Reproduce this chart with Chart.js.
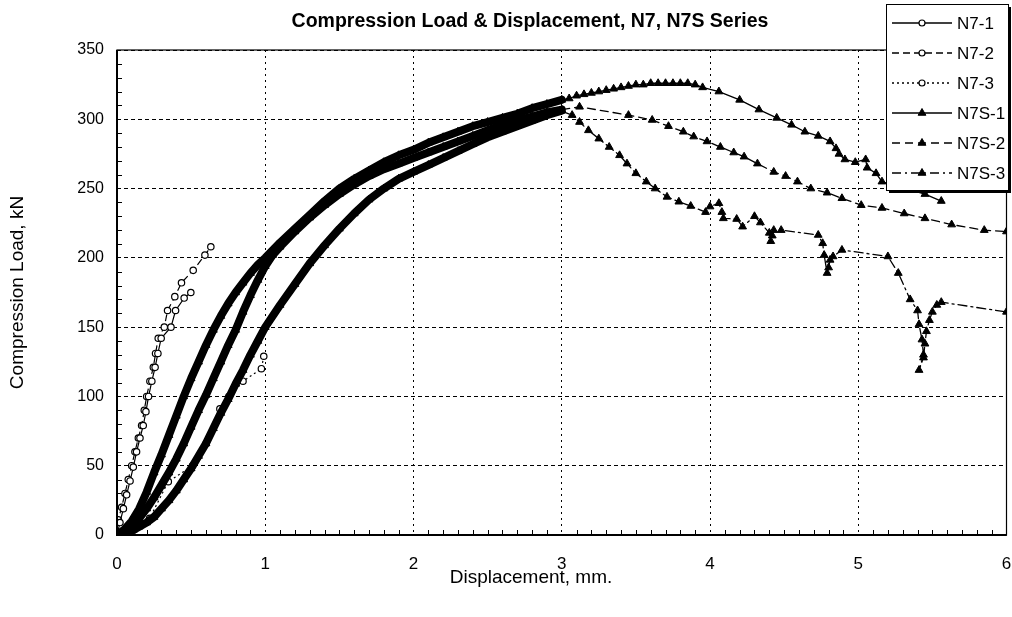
<!DOCTYPE html>
<html><head><meta charset="utf-8">
<script src="https://cdn.jsdelivr.net/npm/chart.js@4.4.0/dist/chart.umd.min.js"></script>
<style>html,body{margin:0;padding:0;background:#fff;overflow:hidden}#wrap{width:1012px;height:617px;position:relative}</style>
</head><body><div id="wrap"><canvas id="c"></canvas></div>
<script>
// ---------- text ----------
const chartTitle = 'Compression Load & Displacement, N7, N7S Series';
const xAxisTitle = 'Displacement, mm.';
const yAxisTitle = 'Compression Load, kN';
const seriesNames = ['N7-1', 'N7-2', 'N7-3', 'N7S-1', 'N7S-2', 'N7S-3'];
const xTickValues = [0, 1, 2, 3, 4, 5, 6];
const yTickValues = [0, 50, 100, 150, 200, 250, 300, 350];

// ---------- data (displacement mm, load kN) ----------
const n7_1_x = [0, 0.02, 0.043, 0.065, 0.088, 0.11, 0.132, 0.155, 0.177, 0.195, 0.213, 0.235, 0.257, 0.276, 0.298, 0.364, 0.395, 0.453, 0.498];
const n7_1_y = [0, 9, 19, 29, 39, 49, 60, 70, 79, 89, 100, 111, 121, 131, 142, 150, 162, 171, 175];

const n7_2_x = [0, 0.009, 0.031, 0.054, 0.076, 0.099, 0.121, 0.144, 0.166, 0.184, 0.2, 0.222, 0.245, 0.26, 0.278, 0.319, 0.341, 0.39, 0.435, 0.514, 0.593, 0.633];
const n7_2_y = [0, 11, 20, 30, 40, 50, 60, 70, 79, 90, 100, 111, 121, 131, 142, 150, 162, 172, 182, 191, 202, 208];

const n7_3_x = [0, 0.12, 0.22, 0.346, 0.51, 0.6, 0.694, 0.754, 0.85, 0.974, 0.99];
const n7_3_y = [0, 4, 12, 38.5, 50, 66, 91, 100, 111, 120, 129];

const n7s_1_x = [0, 0.05, 0.1, 0.15, 0.2, 0.25, 0.3, 0.35, 0.4, 0.45, 0.5, 0.55, 0.6, 0.65, 0.7, 0.75, 0.8, 0.85, 0.9, 0.95,
  1.0, 1.1, 1.2, 1.3, 1.4, 1.5, 1.6, 1.7, 1.8, 1.9, 2.0, 2.1, 2.2, 2.3, 2.4, 2.5, 2.6, 2.7, 2.8, 2.9, 3.0,
  3.05, 3.1, 3.15, 3.2, 3.25, 3.3, 3.35, 3.4, 3.45, 3.5, 3.55, 3.6, 3.65, 3.7, 3.75, 3.8, 3.85, 3.9, 3.95,
  4.06, 4.2, 4.33, 4.45, 4.55, 4.64, 4.73, 4.81, 4.85, 4.87, 4.91, 4.98, 5.05, 5.06, 5.12, 5.16, 5.25, 5.35, 5.45, 5.56];
const n7s_1_y = [0, 4, 10, 19, 31, 45, 58, 72, 86, 100, 113, 125, 137, 148, 158, 167, 175, 182, 189, 195,
  200, 211, 221, 231, 241, 250, 257, 263, 269, 274, 278, 283, 287, 291, 295, 298, 301, 304, 308, 311, 314,
  315, 317, 318, 319, 320, 321, 322, 323, 324, 325, 325, 326, 326, 326, 326, 326, 326, 325, 323,
  320, 314, 307, 301, 296, 291, 288, 284, 279, 275, 271, 269, 271, 265, 261, 255, 252, 249, 246, 241];

const n7s_2_x = [0, 0.05, 0.1, 0.15, 0.2, 0.25, 0.3, 0.35, 0.4, 0.45, 0.5, 0.55, 0.6, 0.65, 0.7, 0.75, 0.8, 0.85, 0.9, 0.95, 1.0, 1.05,
  1.1, 1.2, 1.3, 1.4, 1.5, 1.6, 1.7, 1.8, 1.9, 2.0, 2.1, 2.2, 2.3, 2.4, 2.5, 2.6, 2.7, 2.8, 2.9, 3.0,
  3.12, 3.45, 3.61, 3.72, 3.82, 3.89, 3.98, 4.07, 4.16, 4.23, 4.32, 4.43, 4.51, 4.59, 4.68, 4.79, 4.89, 5.02, 5.16, 5.31, 5.45, 5.63, 5.85, 6.0];
const n7s_2_y = [0, 2, 6, 12, 19, 27, 36, 45, 55, 66, 78, 90, 101, 113, 125, 137, 148, 161, 173, 184, 194, 202,
  208, 219, 229, 238, 246, 253, 259, 264, 268, 272, 276, 280, 284, 288, 292, 296, 299, 302, 305, 307,
  309, 303, 299.5, 295, 291, 287.5, 284, 280, 276, 273, 268, 262, 259, 255, 250, 247, 243, 238, 236, 232, 228.5, 224, 220, 219];

const n7s_3_x = [0, 0.05, 0.1, 0.15, 0.2, 0.25, 0.3, 0.35, 0.4, 0.45, 0.5, 0.55, 0.6, 0.65, 0.7, 0.75, 0.8, 0.85, 0.9, 0.95,
  1.0, 1.1, 1.2, 1.3, 1.4, 1.5, 1.6, 1.7, 1.8, 1.9, 2.0, 2.1, 2.2, 2.3, 2.4, 2.5, 2.6, 2.7, 2.8, 2.9, 2.995,
  3.07, 3.12, 3.18, 3.25, 3.32, 3.39, 3.44, 3.5, 3.57, 3.63, 3.71, 3.79, 3.87, 3.97, 4.0, 4.06, 4.08, 4.09, 4.18, 4.22,
  4.3, 4.34, 4.4, 4.41, 4.42, 4.43, 4.48, 4.73, 4.76, 4.77, 4.79, 4.8, 4.81, 4.83, 4.89, 5.2, 5.27, 5.35, 5.4, 5.41,
  5.43, 5.44, 5.41, 5.44, 5.45, 5.46, 5.48, 5.5, 5.53, 5.56, 6.0];
const n7s_3_y = [0, 1, 3, 6, 9, 13, 19, 25, 32, 40, 48, 57, 66, 77, 88, 98, 109, 119, 130, 140,
  150, 166, 181, 196, 209, 221, 232, 242, 250, 257, 262, 267, 272, 277, 282, 287, 291, 295, 299, 303, 306,
  303, 298, 292, 286, 280, 274, 268, 261, 255, 250, 244, 240.5, 237.4, 233, 237, 239.4, 233, 228.5, 228, 222.5,
  230, 225.5, 218, 212, 216, 220, 220, 216.5, 210.5, 202, 189, 193, 198.5, 201, 205.7, 201, 189, 170, 162, 152,
  141, 130, 119, 128, 138, 147, 155, 161, 166, 168, 161];

// ---------- styling ----------
const FONT = '"Liberation Sans", Arial, sans-serif';
const lineDashes = [[], [7, 4], [2, 3], [], [8, 5], [9, 4, 2, 4]];
const denseEnd = 3.0;   // beyond this, markers are sparse

function pts(xs, ys) { return xs.map((x, i) => ({ x: x, y: ys[i] })); }

function n7Set(idx, xs, ys) {
  return {
    label: seriesNames[idx], data: pts(xs, ys), showLine: true, order: 2,
    borderColor: '#000', borderWidth: 1.2, borderDash: lineDashes[idx],
    pointStyle: 'circle', pointRadius: 3.2, pointBorderWidth: 1.2,
    pointBackgroundColor: '#fff', pointBorderColor: '#000'
  };
}
function n7sSet(idx, xs, ys) {
  return {
    label: seriesNames[idx], data: pts(xs, ys), showLine: true, order: 1,
    borderColor: '#000', borderWidth: 1.3, borderJoinStyle: 'round', borderCapStyle: 'round',
    pointStyle: 'triangle', pointRadius: 4.5, pointBorderWidth: 1,
    pointBackgroundColor: '#000', pointBorderColor: '#000',
    segment: {
      borderWidth: c => (c.p1.parsed.x <= denseEnd ? 8 : 1.3),
      borderDash: c => (c.p1.parsed.x <= denseEnd ? [] : lineDashes[idx])
    }
  };
}

const datasets = [
  n7Set(0, n7_1_x, n7_1_y),
  n7Set(1, n7_2_x, n7_2_y),
  n7Set(2, n7_3_x, n7_3_y),
  n7sSet(3, n7s_1_x, n7s_1_y),
  n7sSet(4, n7s_2_x, n7s_2_y),
  n7sSet(5, n7s_3_x, n7s_3_y)
];

function drawMarker(ctx, style, x, y, r) {
  ctx.beginPath();
  if (style === 'circle') {
    ctx.arc(x, y, r, 0, Math.PI * 2);
    ctx.fillStyle = '#fff'; ctx.fill(); ctx.lineWidth = 1.2; ctx.stroke();
  } else {
    const a = Math.PI * 2 / 3;
    ctx.moveTo(x, y - r);
    ctx.lineTo(x + Math.sin(a) * r, y - Math.cos(a) * r);
    ctx.lineTo(x + Math.sin(2 * a) * r, y - Math.cos(2 * a) * r);
    ctx.closePath();
    ctx.fillStyle = '#000'; ctx.fill(); ctx.lineWidth = 1; ctx.stroke();
  }
}

const decorations = {
  id: 'decorations',
  beforeDatasetsDraw(chart) {
    const { ctx, chartArea: a, scales: { x, y } } = chart;
    ctx.save();
    ctx.strokeStyle = '#000'; ctx.lineWidth = 1; ctx.setLineDash([]);
    ctx.beginPath();
    for (let i = 1; i < 60; i++) {
      if (i % 10 === 0) continue;
      const px = Math.round(x.getPixelForValue(i / 10)) + 0.5;
      ctx.moveTo(px, a.bottom); ctx.lineTo(px, a.bottom - 5);
    }
    for (let v = 10; v < 350; v += 10) {
      if (v % 50 === 0) continue;
      const py = Math.round(y.getPixelForValue(v)) + 0.5;
      ctx.moveTo(a.left, py); ctx.lineTo(a.left + 5, py);
    }
    ctx.stroke();
    ctx.restore();
  },
  afterDatasetsDraw(chart) {
    const { ctx, chartArea: a } = chart;
    ctx.save();
    ctx.strokeStyle = '#000'; ctx.setLineDash([]);
    ctx.lineWidth = 1.2;
    ctx.strokeRect(a.left, a.top, a.right - a.left, a.bottom - a.top);
    ctx.lineWidth = 2;
    ctx.beginPath();
    ctx.moveTo(a.left, a.top); ctx.lineTo(a.left, a.bottom); ctx.lineTo(a.right, a.bottom);
    ctx.stroke();
    ctx.restore();
  },
  afterDraw(chart) {
    const { ctx } = chart;
    ctx.save();
    ctx.fillStyle = '#000';
    ctx.textAlign = 'center'; ctx.textBaseline = 'middle';
    ctx.font = 'bold 19.5px ' + FONT;
    ctx.fillText(chartTitle, 530, 22);
    ctx.font = '19px ' + FONT;
    ctx.fillText(xAxisTitle, 531, 578);

    // legend box
    const L = 886, T = 4, R = 1008, B = 190;
    ctx.fillStyle = '#000';
    ctx.fillRect(L + 3, T + 3, R - L, B - T);
    ctx.fillStyle = '#fff';
    ctx.fillRect(L, T, R - L, B - T);
    ctx.strokeStyle = '#000'; ctx.lineWidth = 1;
    ctx.strokeRect(L + 0.5, T + 0.5, R - L, B - T);
    chart.data.datasets.forEach((ds, i) => {
      const yy = 23 + i * 30;
      ctx.save();
      ctx.strokeStyle = '#000'; ctx.lineWidth = 1.3;
      ctx.setLineDash(lineDashes[i]);
      ctx.beginPath(); ctx.moveTo(892, yy); ctx.lineTo(952, yy); ctx.stroke();
      ctx.setLineDash([]);
      drawMarker(ctx, ds.pointStyle, 922, yy, ds.pointStyle === 'circle' ? 3 : 4.5);
      ctx.restore();
      ctx.fillStyle = '#000';
      ctx.textAlign = 'left'; ctx.textBaseline = 'middle';
      ctx.font = '17px ' + FONT;
      ctx.fillText(ds.label, 957, yy + 1);
    });
    ctx.restore();
  }
};

new Chart(document.getElementById('c'), {
  type: 'scatter',
  data: { datasets: datasets },
  options: {
    responsive: true, maintainAspectRatio: false, animation: false,
    layout: { padding: { top: 50, left: 0, right: 0, bottom: 0 } },
    plugins: { legend: { display: false }, title: { display: false }, tooltip: { enabled: false } },
    scales: {
      x: {
        type: 'linear', min: 0, max: 6,
        afterBuildTicks: s => { s.ticks = xTickValues.map(v => ({ value: v })); },
        ticks: { color: '#000', font: { family: FONT, size: 17 }, padding: 19, maxRotation: 0 },
        grid: { color: '#000', lineWidth: 1, drawTicks: false },
        border: { display: false, dash: [2, 4] },
        afterFit: s => { s.height = 82; s.paddingRight = 4; s.paddingLeft = 0; }
      },
      y: {
        type: 'linear', min: 0, max: 350,
        afterBuildTicks: s => { s.ticks = yTickValues.map(v => ({ value: v })); },
        ticks: { color: '#000', font: { family: FONT, size: 16 }, padding: 13 },
        grid: { color: '#000', lineWidth: 1, drawTicks: false },
        border: { display: false, dash: [4, 3] },
        title: { display: true, text: yAxisTitle, color: '#000', font: { family: FONT, size: 19 }, padding: { top: 6, bottom: 0 } },
        afterFit: s => { s.width = 117; }
      }
    }
  },
  plugins: [decorations]
});
</script>
</body></html>
